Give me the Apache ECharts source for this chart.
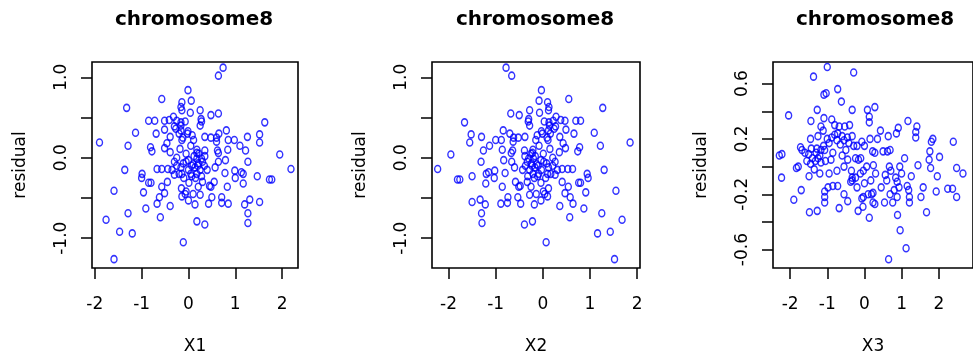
<!DOCTYPE html>
<html>
<head>
<meta charset="utf-8">
<script src="https://cdn.jsdelivr.net/npm/echarts@6/dist/echarts.min.js"></script>
<style>
html,body{margin:0;padding:0;background:#fff;}
#main{width:973px;height:363px;}
</style>
</head>
<body>
<div id="main"></div>
<script>
// residual vs X1 / X2 (same residuals), residual vs X3
var x1 = [0.74,0.64,-0.01,-0.57,-1.32,-0.14,0.06,-0.16,-0.14,0.04,
  0.25,0.48,0.64,-0.85,-0.72,-0.51,-0.41,-0.32,-0.25,-0.16,
  -0.07,-0.16,-0.30,0.27,0.28,0.25,1.63,-0.51,-1.13,-0.69,
  -0.39,-0.27,-0.16,-0.01,0.11,0.35,0.48,0.60,0.65,0.81,
  0.85,0.98,1.10,1.26,1.52,1.52,-0.14,-0.46,-1.90,-1.29,
  -0.81,-0.78,-0.51,-0.39,-0.18,0.18,0.18,0.35,0.62,0.64,
  0.84,0.79,1.22,1.95,-0.99,-1.36,-0.67,-0.57,-0.44,-0.25,
  -0.16,-0.11,0.00,0.07,0.14,0.21,0.28,0.18,0.34,0.57,
  0.64,0.99,1.13,1.27,2.19,-0.30,-0.14,0.00,0.07,0.18,
  0.28,-1.00,-0.85,-0.80,0.01,0.21,0.48,0.78,1.00,1.17,
  1.17,1.47,1.73,1.78,-0.57,-1.59,-0.96,-0.62,-0.51,-0.67,
  -0.39,-0.14,-0.07,0.00,0.14,0.25,0.43,0.50,0.71,0.83,
  0.71,0.85,1.20,1.31,1.52,-0.91,-1.29,-1.76,-0.60,0.18,
  0.35,1.27,1.27,-1.47,-1.20,-0.11,-1.59,-0.05,0.10,0.20,
  0.25,-0.20,-0.10,0.05,0.15,0.30,0.35,-0.30,-0.25,0.12,
  0.22,-0.05,0.05,-0.12,-0.02,0.08,-0.20,0.40,0.45,0.30,
  -0.15,-0.05,0.10,-0.35,-0.45,0.55,0.60];
var x2 = [-0.78,-0.66,-0.03,0.55,1.27,0.10,-0.08,0.13,0.12,-0.07,
  -0.28,-0.50,-0.68,0.80,0.70,0.47,0.38,0.28,0.22,0.13,
  0.03,0.14,0.27,-0.30,-0.31,-0.28,-1.66,0.49,1.09,0.66,
  0.36,0.24,0.12,-0.03,-0.15,-0.38,-0.52,-0.62,-0.70,-0.84,
  -0.88,-1.00,-1.13,-1.30,-1.52,-1.55,0.11,0.43,1.85,1.22,
  0.78,0.74,0.48,0.35,0.15,-0.21,-0.22,-0.39,-0.64,-0.67,
  -0.86,-0.83,-1.26,-1.95,0.94,1.30,0.63,0.53,0.41,0.21,
  0.12,0.08,-0.04,-0.10,-0.17,-0.24,-0.30,-0.20,-0.37,-0.60,
  -0.66,-1.02,-1.15,-1.31,-2.23,0.26,0.10,-0.03,-0.11,-0.21,
  -0.32,0.96,0.80,0.76,-0.04,-0.25,-0.51,-0.80,-1.03,-1.20,
  -1.21,-1.50,-1.76,-1.81,0.54,1.55,0.91,0.58,0.47,0.64,
  0.36,0.10,0.04,-0.04,-0.18,-0.28,-0.47,-0.53,-0.74,-0.86,
  -0.75,-0.89,-1.22,-1.33,-1.50,0.87,1.25,1.68,0.57,-0.22,
  -0.39,-1.30,-1.29,1.43,1.16,0.07,1.52,0.02,-0.13,-0.23,
  -0.28,0.17,0.06,-0.09,-0.18,-0.33,-0.38,0.26,0.21,-0.16,
  -0.25,0.01,-0.08,0.09,-0.01,-0.12,0.16,-0.43,-0.48,-0.33,
  0.12,0.01,-0.14,0.31,0.41,-0.58,-0.63];
var residual12 = [1.12,1.02,0.84,0.73,0.62,0.69,0.71,0.63,0.59,0.56,
  0.59,0.53,0.55,0.46,0.46,0.46,0.47,0.51,0.46,0.44,
  0.45,0.40,0.39,0.48,0.45,0.40,0.44,0.35,0.31,0.30,
  0.26,0.36,0.34,0.33,0.22,0.26,0.25,0.25,0.30,0.34,
  0.22,0.22,0.15,0.26,0.29,0.19,0.22,0.18,0.19,0.15,
  0.13,0.08,0.12,0.07,0.11,0.10,0.06,0.09,0.09,0.06,
  0.10,-0.03,0.09,0.04,-0.20,-0.15,-0.14,-0.14,-0.14,-0.10,
  -0.12,-0.07,-0.03,-0.10,-0.12,-0.07,-0.01,-0.01,-0.10,-0.12,
  -0.05,-0.16,-0.18,-0.05,-0.14,-0.21,-0.20,-0.15,-0.23,-0.20,
  -0.23,-0.25,-0.31,-0.31,-0.31,-0.36,-0.36,-0.19,-0.25,-0.20,
  -0.32,-0.23,-0.27,-0.27,-0.36,-0.41,-0.43,-0.49,-0.44,-0.57,
  -0.60,-0.48,-0.45,-0.53,-0.58,-0.46,-0.57,-0.49,-0.49,-0.36,
  -0.56,-0.57,-0.58,-0.52,-0.55,-0.63,-0.69,-0.77,-0.74,-0.79,
  -0.83,-0.69,-0.81,-0.92,-0.94,-1.05,-1.26,-0.05,-0.08,-0.10,
  -0.15,-0.20,-0.25,-0.20,-0.25,-0.05,0.02,-0.05,0.00,0.02,
  0.05,0.05,0.15,0.25,0.30,0.28,0.30,-0.15,-0.35,-0.30,
  -0.38,-0.42,-0.45,-0.15,-0.30,-0.30,0.20];
var x3 = [-1.00,-0.29,-1.37,-0.72,-1.09,-1.03,-0.62,-0.33,0.08,0.28,
  -1.27,-2.04,-1.44,-1.09,-0.88,0.13,0.13,-1.17,-1.11,-0.68,
  -0.53,0.43,0.64,0.91,0.86,1.17,1.41,1.38,1.38,1.84,
  1.80,2.39,-0.80,-0.72,-0.60,-0.46,-0.33,-0.74,-0.55,-0.42,
  -0.29,-0.20,-0.07,-0.65,-0.88,-0.95,0.15,-1.72,-1.68,-1.43,
  -1.28,-1.17,-1.07,-1.40,-1.25,-1.17,-1.05,-1.32,-1.50,-1.60,
  -1.20,-1.30,-1.10,-2.29,-2.22,-2.23,-1.90,-1.70,-1.78,-1.83,
  -1.49,-1.48,-1.27,-1.07,-1.07,-1.07,-0.98,-0.68,-0.85,-0.72,
  -0.74,-0.55,-0.35,-0.33,-0.16,-0.10,-0.24,0.06,0.24,0.28,
  0.22,0.50,0.62,0.69,1.08,1.44,1.76,1.74,1.78,2.02,
  2.48,2.65,1.96,1.26,0.67,0.71,0.84,0.88,0.93,0.88,
  0.56,0.60,1.15,1.19,1.21,1.21,1.58,1.52,1.93,2.24,
  2.37,2.48,1.67,0.89,0.96,1.12,0.65,0.13,-0.17,-0.04,
  -0.07,-0.03,0.19,0.23,0.28,0.54,0.76,0.80,0.69,0.17,
  0.23,-0.37,-0.33,-0.24,-0.11,-0.03,-1.55,-1.45,-1.35,-1.20,
  -0.90,-0.85,-0.60,-0.50,-0.45,-0.95,-1.00,-0.80,-0.40,0.00,
  0.35,0.45,0.10,-0.20,-0.55,-0.45,0.00,0.30,1.00,0.95,
  -1.25,-1.45];
var residual3 = [0.72,0.68,0.65,0.56,0.52,0.53,0.47,0.41,0.41,0.43,
  0.41,0.37,0.33,0.35,0.34,0.36,0.32,0.29,0.26,0.29,
  0.29,0.26,0.22,0.28,0.24,0.33,0.29,0.25,0.21,0.20,
  0.18,0.18,0.23,0.24,0.22,0.21,0.22,0.19,0.19,0.17,
  0.15,0.15,0.18,0.16,0.21,0.17,0.20,0.14,0.12,0.13,
  0.13,0.12,0.12,0.06,0.06,0.03,0.04,0.04,0.09,0.10,
  0.08,0.10,0.15,0.08,0.09,-0.08,-0.24,-0.17,0.00,-0.01,
  -0.07,-0.33,-0.32,-0.18,-0.22,-0.26,-0.15,-0.30,-0.14,-0.14,
  -0.03,0.00,-0.03,-0.08,0.05,0.06,0.06,0.00,0.01,0.10,
  0.11,0.11,0.11,0.12,0.06,0.01,0.11,0.05,-0.01,0.07,
  -0.01,-0.05,-0.07,-0.07,0.00,-0.03,-0.08,-0.11,-0.15,-0.22,
  -0.06,-0.10,-0.14,-0.17,-0.22,-0.26,-0.15,-0.22,-0.18,-0.16,
  -0.16,-0.22,-0.33,-0.35,-0.46,-0.59,-0.67,-0.37,-0.32,-0.29,
  -0.23,-0.22,-0.20,-0.26,-0.27,-0.26,-0.26,-0.17,-0.20,-0.10,
  -0.19,-0.11,-0.10,-0.08,-0.05,-0.03,0.04,0.02,-0.02,-0.05,
  0.05,0.10,0.08,0.12,0.05,-0.05,0.20,0.30,0.30,0.15,
  0.20,-0.15,-0.20,-0.15,-0.20,-0.25,-0.12,-0.05,-0.05,0.00,
  0.22,0.20];

var xTicks = [-2, -1, 0, 1, 2];
var yTicks12 = [-1, -0.5, 0, 0.5, 1];
var yLabels12 = [-1, 0, 1];
var yTicks3 = [-0.6, -0.4, -0.2, 0, 0.2, 0.4, 0.6];
var yLabels3 = [-0.6, -0.2, 0.2, 0.6];
var xNames = ['X1', 'X2', 'X3'];
var titleText = 'chromosome8';

var FONT = '"DejaVu Sans", sans-serif';
var grids = [
  {left: 92, top: 62, width: 206, height: 206},
  {left: 432, top: 62, width: 208, height: 206},
  {left: 773, top: 62, width: 206, height: 206}
];
var xRange = [[-2.06, 2.34], [-2.35, 2.06], [-2.46, 2.92]];
var yRange = [[-1.37, 1.19], [-1.37, 1.19], [-0.733, 0.756]];

function pairs(xs, ys) {
  var out = [];
  for (var i = 0; i < xs.length; i++) out.push([xs[i], ys[i]]);
  return out;
}

var chart = echarts.init(document.getElementById('main'));
var xAxis = [], yAxis = [], series = [], graphic = [];
var sets = [[x1, residual12], [x2, residual12], [x3, residual3]];

for (var k = 0; k < 3; k++) {
  xAxis.push({
    type: 'value', gridIndex: k, min: xRange[k][0], max: xRange[k][1], position: 'bottom',
    name: xNames[k], nameLocation: 'middle', nameGap: 70,
    nameTextStyle: {color: '#000', fontFamily: FONT, fontSize: 17},
    axisLine: {show: false, onZero: false},
    splitLine: {show: false},
    axisTick: {show: true, inside: false, length: 11, customValues: xTicks, lineStyle: {color: '#000', width: 1.5}},
    axisLabel: {customValues: xTicks, margin: 28, color: '#000', fontFamily: FONT, fontSize: 17,
      formatter: function (v) { return String(v); }}
  });
  var yt = k < 2 ? yTicks12 : yTicks3;
  var yl = k < 2 ? yLabels12 : yLabels3;
  yAxis.push({
    type: 'value', gridIndex: k, min: yRange[k][0], max: yRange[k][1], position: 'left',
    name: 'residual', nameLocation: 'middle', nameGap: 63, nameRotate: 90,
    nameTextStyle: {color: '#000', fontFamily: FONT, fontSize: 17},
    axisLine: {show: false, onZero: false},
    splitLine: {show: false},
    axisTick: {show: true, inside: false, length: 11, customValues: yt, lineStyle: {color: '#000', width: 1.5}},
    axisLabel: {customValues: yl, rotate: 90, margin: 22, color: '#000', fontFamily: FONT, fontSize: 17,
      formatter: function (v) { return v.toFixed(1); }}
  });
  series.push({
    type: 'scatter', xAxisIndex: k, yAxisIndex: k,
    symbol: 'circle', symbolSize: [6, 7],
    itemStyle: {color: 'rgba(0,0,0,0)', borderColor: '#0000ff', borderWidth: 1.5},
    emphasis: {disabled: true},
    data: pairs(sets[k][0], sets[k][1])
  });
  graphic.push({
    type: 'text', x: grids[k].left + grids[k].width / 2 - 1, y: 20,
    style: {text: titleText, fill: '#000', font: 'bold 20px ' + FONT, align: 'center', verticalAlign: 'middle'}
  });
}

chart.setOption({
  animation: false,
  backgroundColor: '#fff',
  grid: grids.map(function (g) {
    return Object.assign({show: true, borderColor: '#000', borderWidth: 1.6, backgroundColor: 'transparent'}, g);
  }),
  xAxis: xAxis,
  yAxis: yAxis,
  series: series,
  graphic: graphic
});
</script>
</body>
</html>
